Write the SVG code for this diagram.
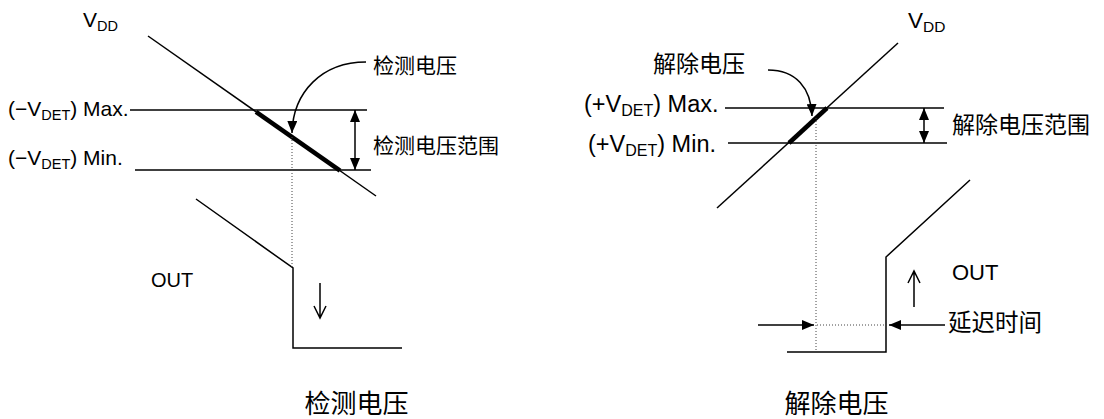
<svg xmlns="http://www.w3.org/2000/svg" width="1104" height="419" viewBox="0 0 1104 419">
<style>
  .ln{fill:none;stroke:#000;stroke-width:1.5}
  .thick{fill:none;stroke:#000;stroke-width:4.5;stroke-linecap:butt}
  .dot{fill:none;stroke:#444;stroke-width:1;stroke-dasharray:1 2}
  .lat{font-family:"Liberation Sans",Arial,sans-serif;fill:#000}
  .cjk{font-family:"Noto Sans CJK SC","Noto Sans CJK JP",sans-serif;fill:#000}
</style>
<defs>
  <marker id="ah" viewBox="0 0 12 10" markerWidth="12" markerHeight="10" refX="12" refY="5" orient="auto-start-reverse" markerUnits="userSpaceOnUse">
    <path d="M0,0 L12,5 L0,10 z" fill="#000"/>
  </marker>
</defs>
<rect width="1104" height="419" fill="#fff"/>

<g id="left-detect">
  <text class="lat" x="83" y="27" font-size="21">V<tspan dy="4" font-size="14.5">DD</tspan></text>
  <line class="ln" x1="148" y1="36" x2="376" y2="196"/>
  <line class="ln" x1="130" y1="110" x2="367" y2="110"/>
  <line class="ln" x1="135" y1="170" x2="371" y2="170"/>
  <line class="thick" x1="256" y1="111.8" x2="340" y2="170.7"/>
  <text class="lat" x="8" y="116" font-size="21">(−V<tspan dy="4" font-size="14.5">DET</tspan><tspan dy="-4">) Max.</tspan></text>
  <text class="lat" x="8" y="165" font-size="21">(−V<tspan dy="4" font-size="14.5">DET</tspan><tspan dy="-4">) Min.</tspan></text>
  <text class="cjk" x="373" y="73" font-size="21">检测电压</text>
  <text class="cjk" x="373" y="153" font-size="21">检测电压范围</text>
  <text class="lat" x="151" y="287" font-size="20">OUT</text>
  <polyline class="ln" points="196,199 293,268 293,348 402,348"/>
  <text class="cjk" x="356.5" y="413" font-size="26" text-anchor="middle">检测电压</text>
</g>

<g id="right-release">
  <text class="lat" x="908" y="28" font-size="22.5">V<tspan dy="4" font-size="15.5">DD</tspan></text>
  <line class="ln" x1="717" y1="208" x2="898" y2="43"/>
  <line class="ln" x1="725" y1="108" x2="944" y2="108"/>
  <line class="ln" x1="728" y1="143" x2="947" y2="143"/>
  <line class="thick" x1="789" y1="143" x2="827" y2="108"/>
  <text class="lat" x="584" y="112" font-size="23.5">(+V<tspan dy="4" font-size="16">DET</tspan><tspan dy="-4">) Max.</tspan></text>
  <text class="lat" x="588" y="152" font-size="23.5">(+V<tspan dy="4" font-size="16">DET</tspan><tspan dy="-4">) Min.</tspan></text>
  <text class="cjk" x="653" y="72" font-size="23">解除电压</text>
  <text class="cjk" x="952" y="132.5" font-size="23">解除电压范围</text>
  <text class="lat" x="952" y="280" font-size="22">OUT</text>
  <polyline class="ln" points="787,352 886,352 886,257 970,180"/>
  <text class="cjk" x="948" y="330.5" font-size="23.5">延迟时间</text>
  <text class="cjk" x="836.5" y="413" font-size="26" text-anchor="middle">解除电压</text>
</g>

<g id="connectors">
  <path class="ln" d="M366,62 C322,62 293,92 292,133" marker-end="url(#ah)"/>
  <line class="dot" x1="292" y1="137" x2="292" y2="268"/>
  <line class="ln" x1="355" y1="110" x2="355" y2="170" marker-start="url(#ah)" marker-end="url(#ah)"/>
  <path class="ln" d="M320,283 L320,318 M314,306 L320,318 L326,306"/>

  <path class="ln" d="M768,70 C796,70 811,88 812,116" marker-end="url(#ah)"/>
  <line class="dot" x1="816" y1="118" x2="816" y2="352"/>
  <line class="ln" x1="924" y1="108" x2="924" y2="143" marker-start="url(#ah)" marker-end="url(#ah)"/>
  <path class="ln" d="M914,307 L914,271 M908,283 L914,271 L920,283"/>
  <line class="dot" x1="817" y1="325" x2="886" y2="325"/>
  <line class="ln" x1="758" y1="325" x2="814" y2="325" marker-end="url(#ah)"/>
  <line class="ln" x1="945" y1="325" x2="889" y2="325" marker-end="url(#ah)"/>
</g>
</svg>
